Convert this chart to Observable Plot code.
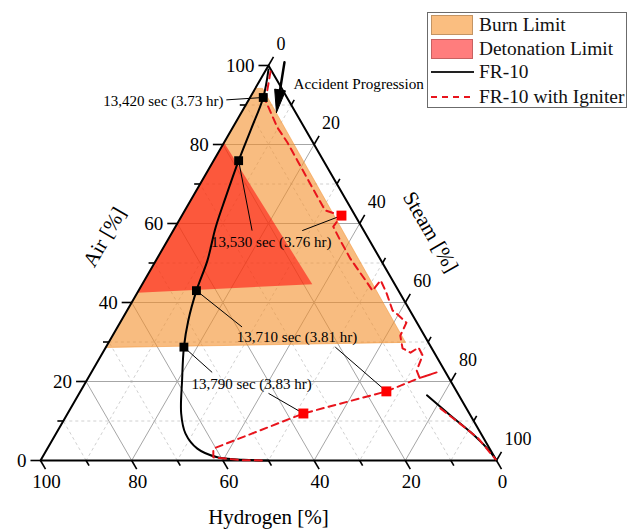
<!DOCTYPE html>
<html><head><meta charset="utf-8">
<script src="https://cdn.jsdelivr.net/npm/d3@7"></script>
<script src="https://cdn.jsdelivr.net/npm/@observablehq/plot@0.6"></script>
<style>
body{margin:0;background:#fff;}
#wrap{position:relative;width:643px;height:531px;font-family:"Liberation Serif","Times New Roman",serif;}
#legend{position:absolute;left:427px;top:12px;width:200px;height:96px;box-sizing:border-box;border:1px solid #6b6b6b;background:#fff;}
#legend .sw{position:absolute;left:3px;width:42px;height:20px;box-sizing:border-box;border:1px solid rgba(0,0,0,0.22);}
#legend .lt{position:absolute;left:51px;font-size:19.4px;line-height:20px;white-space:nowrap;color:#111;}
#legend svg{position:absolute;left:3px;}
</style></head><body><div id="wrap"></div>
<script>
// Ternary points are [Hydrogen %, Air %, Steam %]
const burnLimit = [[5.8,94.2,0],[4.2,94.2,1.6],[5.0,29.9,65.1],[71.4,28.6,0]];
const detonationLimit = [[19.5,80.5,0],[18.1,44.6,37.3],[57.5,42.5,0]];

const fr10 = [[0.5,99.0,0.5],[5.2,91.9,2.9],[11.7,84.1,4.2],[18.6,75.9,5.5],[26.1,66.6,7.3],
  [32.1,59.0,8.9],[38.1,50.6,11.3],[44.3,43.0,12.7],[49.9,35.4,14.7],[54.2,28.7,17.1],
  [58.8,20.3,20.9],[63.2,11.9,24.9],[64.8,6.8,28.4],[64.1,3.0,32.9],[60.8,0.8,38.4],
  [55.4,0.2,44.4],[50,0,50]];
const fr10Late = [[7.0,16.5,76.5],[4.4,11.4,84.2],[2.1,7.2,90.7],[0.5,3.0,96.5],[0,0.3,99.7]];
const fr10Markers = [[5.2,91.9,2.9],[18.6,75.9,5.5],[44.3,43.0,12.7],[54.2,28.7,17.1]];

const igniter = [[0.3,98.5,1.2],[5.1,91.1,3.8],[5.9,84.3,9.8],[5.6,80.5,13.9],[5.7,75.9,18.4],
  [5.8,70.9,23.3],[5.9,66.3,27.8],[5.9,63.3,30.8],[3.0,62.0,35.0],[6.2,59.2,34.6],
  [6.4,55.7,37.9],[6.5,51.1,42.4],[6.2,48.1,45.7],[5.9,45.6,48.5],[5.7,43.0,51.3],
  [2.6,45.6,51.8],[2.9,42.5,54.6],[3.8,38.0,58.2],[3.1,36.7,60.2],[2.3,34.9,62.8],
  [5.3,31.6,63.1],[6.4,28.4,65.2],[5.2,27.3,67.5],[2.8,28.6,68.6],[2.9,26.6,70.5],
  [6.1,22.8,71.1],[6.4,20.9,72.7],[2.0,22.3,75.7],[6.7,20.8,72.5],[15.4,17.5,67.1],[36.4,11.9,51.7],
  [60.6,3.0,36.4],[61.7,0.8,37.5],[56.1,0.1,43.8],[50.7,0,49.3]];
const igniterLate = [[5.7,13.2,81.1],[3.5,9.6,86.9],[1.2,5.6,93.2],[0.4,1.8,97.8],[0,0.3,99.7]];
const igniterMarkers = [[3.0,62.0,35.0],[15.4,17.5,67.1],[36.4,11.9,51.7]];

const majorTicks = [0,20,40,60,80,100];
const minorTicks = [10,30,50,70,90];
const tickLabels = ["0","20","40","60","80","100"];

const annotationLabels = ["13,420 sec (3.73 hr)","13,530 sec (3.76 hr)","13,710 sec (3.81 hr)","13,790 sec (3.83 hr)"];
const annotationAt = [[14.4,90.9,-5.3],[21.8,55.2,23.0],[28.2,31.1,40.7],[44.1,19.2,36.7]];
const leaderFrom = [[13.6,91.3,-4.9],[24.5,58.2,17.3],[13.5,58.2,28.3],[38.9,33.8,27.3],[21.0,28.7,50.3],[51.2,22.3,26.5],[41.5,17.0,41.5]];
const leaderTo = [[5.2,91.9,2.9],[18.6,75.9,5.5],[3.0,62.0,35.0],[44.3,43.0,12.7],[15.4,17.5,67.1],[54.2,28.7,17.1],[36.4,11.9,51.7]];
const progressionLabel = "Accident Progression";
const progressionAt = [-3.2,95.4,7.8];
const arrowFrom = [-3.9,100.8,3.1], arrowTo = [4.2,88.1,7.7];

const axisTitles = ["Air [%]","Steam [%]","Hydrogen [%]"];

// ---- ternary -> cartesian
const tx = d => (d[2] + d[1]/2)/100;
const ty = d => d[1]/100;
const close = arr => [...arr, arr[0]];
const K = Math.sqrt(3)/2;

// grid
const grid = [];
for (const v of [...minorTicks, 20,40,60,80]) {
  const major = v % 20 === 0;
  grid.push({a:[100-v,v,0], b:[0,v,100-v], major});
  grid.push({a:[v,0,100-v], b:[v,100-v,0], major});
  grid.push({a:[0,100-v,v], b:[100-v,0,v], major});
}
// ticks
const ticks = [];
for (const v of [...majorTicks, ...minorTicks]) {
  const L = v % 20 === 0 ? 2.2 : 1.3;
  ticks.push({a:[100-v,v,0], b:[100-v+L,v,-L]});
  ticks.push({a:[v,0,100-v], b:[v,-L,100-v+L]});
  ticks.push({a:[0,100-v,v], b:[-L,100-v+L,v]});
}
const LM = 2.2;
const airLab = majorTicks.map((v,i)=>({t:tickLabels[i], p:[100-v+LM,v,-LM]}));
const hLab = majorTicks.map((v,i)=>({t:tickLabels[i], p:[v,-LM,100-v+LM]}));
const sLab = majorTicks.map((v,i)=>({t:tickLabels[i], p:[-LM,100-v+LM,v]}));

const leaders = leaderFrom.map((f,i)=>({a:f,b:leaderTo[i]}));
const annotations = annotationLabels.map((t,i)=>({t, p:annotationAt[i]}));

// arrow head derived from arrow ends
const ph = d => [tx(d), ty(d)*K];
const [u0,v0] = ph(arrowFrom), [u1,v1] = ph(arrowTo);
const len = Math.hypot(u1-u0, v1-v0), du=(u1-u0)/len, dv=(v1-v0)/len;
const hl = 0.05, hw = 0.012;
const bu = u1-du*hl, bv = v1-dv*hl;
const head = [[u1,v1],[bu-dv*hw, bv+du*hw],[bu+dv*hw, bv-du*hw],[u1,v1]].map(([u,v])=>({x:u,y:v/K}));
const shaft = [{x:u0,y:v0/K},{x:bu,y:bv/K}];

const frame = [[100,0,0],[0,100,0],[0,0,100],[100,0,0]];

const chart = Plot.plot({
  width:643, height:531,
  marginLeft:40, marginRight:147, marginTop:65, marginBottom:71,
  x:{domain:[0,1], axis:null},
  y:{domain:[0,1], axis:null},
  style:{fontFamily:"'Liberation Serif','Times New Roman',serif", background:"white", color:"black"},
  marks:[
    Plot.link(grid.filter(d=>!d.major), {x1:d=>tx(d.a), y1:d=>ty(d.a), x2:d=>tx(d.b), y2:d=>ty(d.b), stroke:"#c4c4c4", strokeWidth:0.8, strokeDasharray:"3,3"}),
    Plot.link(grid.filter(d=>d.major), {x1:d=>tx(d.a), y1:d=>ty(d.a), x2:d=>tx(d.b), y2:d=>ty(d.b), stroke:"#a6a6a6", strokeWidth:1}),
    Plot.line(close(burnLimit), {x:tx, y:ty, fill:"rgb(243,143,43)", fillOpacity:0.6, stroke:"rgb(243,143,43)", strokeOpacity:0.5, strokeWidth:1}),
    Plot.line(close(detonationLimit), {x:tx, y:ty, fill:"rgb(255,0,0)", fillOpacity:0.53, stroke:"none"}),
    Plot.line(frame, {x:tx, y:ty, stroke:"black", strokeWidth:2}),
    Plot.link(ticks, {x1:d=>tx(d.a), y1:d=>ty(d.a), x2:d=>tx(d.b), y2:d=>ty(d.b), stroke:"black", strokeWidth:1.6}),
    Plot.text(airLab, {x:d=>tx(d.p), y:d=>ty(d.p), text:"t", textAnchor:"end", dx:-4, fontSize:19, lineAnchor:"middle"}),
    Plot.text(hLab, {x:d=>tx(d.p), y:d=>ty(d.p), text:"t", textAnchor:"middle", dx:1, dy:13, fontSize:19, lineAnchor:"middle"}),
    Plot.text(sLab, {x:d=>tx(d.p), y:d=>ty(d.p), text:"t", textAnchor:"start", dx:3, dy:-13, fontSize:18, lineAnchor:"middle"}),
    Plot.text([axisTitles[0]], {x:tx([50,50,0]), y:ty([50,50,0]), text:d=>d, rotate:-60, dx:-50, dy:-26, fontSize:21}),
    Plot.text([axisTitles[1]], {x:tx([0,50,50]), y:ty([0,50,50]), text:d=>d, rotate:60, dx:48, dy:-31, fontSize:21}),
    Plot.text([axisTitles[2]], {x:tx([50,0,50]), y:ty([50,0,50]), text:d=>d, dy:57, fontSize:21}),
    Plot.line(fr10, {x:tx, y:ty, stroke:"black", strokeWidth:2, curve:"catmull-rom"}),
    Plot.line(fr10Late, {x:tx, y:ty, stroke:"black", strokeWidth:2, curve:"catmull-rom"}),
    Plot.line(igniter, {x:tx, y:ty, stroke:"#e8141c", strokeWidth:2, strokeDasharray:"7,5"}),
    Plot.line(igniterLate, {x:tx, y:ty, stroke:"#e8141c", strokeWidth:2, strokeDasharray:"7,5"}),
    Plot.link(leaders, {x1:d=>tx(d.a), y1:d=>ty(d.a), x2:d=>tx(d.b), y2:d=>ty(d.b), stroke:"black", strokeWidth:1}),
    Plot.dot(fr10Markers, {x:tx, y:ty, symbol:"square", r:5, fill:"black", stroke:"none"}),
    Plot.dot(igniterMarkers, {x:tx, y:ty, symbol:"square", r:5.6, fill:"#ff0000", stroke:"none"}),
    Plot.text(annotations.slice(0,1), {x:d=>tx(d.p), y:d=>ty(d.p), text:"t", textAnchor:"end", fontSize:15, lineAnchor:"middle"}),
    Plot.text(annotations.slice(1), {x:d=>tx(d.p), y:d=>ty(d.p), text:"t", textAnchor:"middle", fontSize:15, lineAnchor:"middle"}),
    Plot.text([progressionLabel], {x:tx(progressionAt), y:ty(progressionAt), text:d=>d, textAnchor:"start", fontSize:15.2, lineAnchor:"middle"}),
    Plot.line(shaft, {x:"x", y:"y", stroke:"black", strokeWidth:2.5}),
    Plot.line(head, {x:"x", y:"y", fill:"black", stroke:"black", strokeWidth:1})
  ]
});
const wrap = document.getElementById("wrap");
wrap.appendChild(chart);

const legend = document.createElement("div");
legend.id = "legend";
legend.innerHTML = `
 <div class="sw" style="top:2px;background:#fabe80;"></div><div class="lt" style="top:2px">Burn Limit</div>
 <div class="sw" style="top:26px;background:#ff7d7d;"></div><div class="lt" style="top:26px">Detonation Limit</div>
 <svg width="44" height="6" style="top:56px"><line x1="0" x2="43" y1="3" y2="3" stroke="#222" stroke-width="2"/></svg>
 <div class="lt" style="top:49px">FR-10</div>
 <svg width="44" height="6" style="top:81px"><line x1="0" x2="43" y1="3" y2="3" stroke="#e8141c" stroke-width="2" stroke-dasharray="6,5"/></svg>
 <div class="lt" style="top:74px">FR-10 with Igniter</div>`;
wrap.appendChild(legend);
</script>
</body></html>
